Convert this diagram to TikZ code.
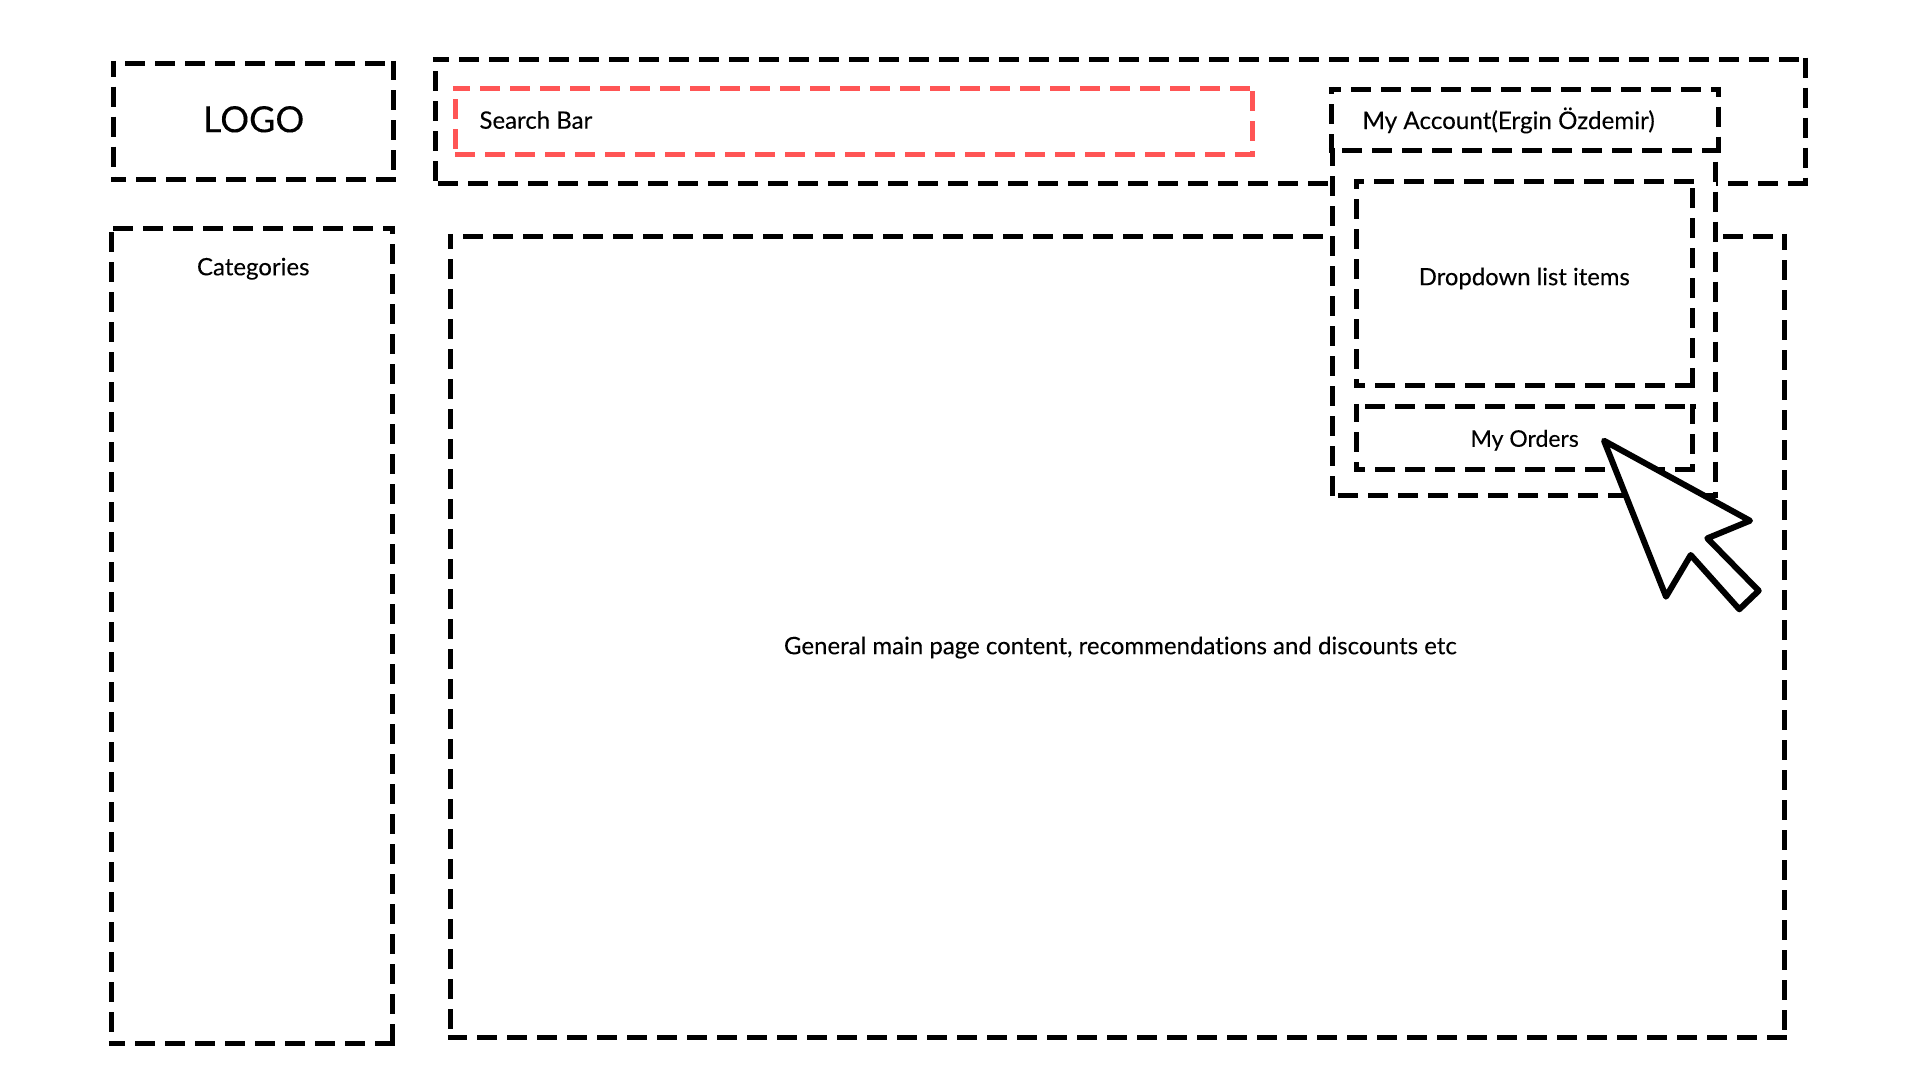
\documentclass[tikz,border=0pt]{standalone}
\usepackage{fontspec}
\setmainfont{Lato}[FakeBold=0.12,Ligatures=CommonOff]
\newcommand{\hsd}[5][black]{% y, x1, x2, dash start
  \pgfmathsetmacro{\myph}{mod(mod(#3-2.5-(#5),30)+30,30)}
  \draw[side,draw=#1,dash phase=\myph pt] ({#3-2.5},#2) -- ({#4+2.5},#2);}
\newcommand{\vsd}[5][black]{% x, y1, y2, dash start
  \pgfmathsetmacro{\myph}{mod(mod(#3-2.5-(#5),30)+30,30)}
  \draw[side,draw=#1,dash phase=\myph pt] (#2,{#3-2.5}) -- (#2,{#4+2.5});}
% name, l, t, r, b, then dTop, dRight, dBottom, dLeft
\newcommand{\dbx}[5]{%
  \pgfmathsetmacro{\myw}{#4-#2}\pgfmathsetmacro{\myh}{#5-#3}
  \node[boxarea,minimum width=\myw pt,minimum height=\myh pt] (#1) at ({(#2+#4)/2},{(#3+#5)/2}) {};
  \def\myl{#2}\def\myt{#3}\def\myr{#4}\def\myb{#5}\dbxb}
\newcommand{\dbxb}[4]{%
  \hsd{\myt}{\myl}{\myr}{#1}\vsd{\myr}{\myt}{\myb}{#2}\hsd{\myb}{\myl}{\myr}{#3}\vsd{\myl}{\myt}{\myb}{#4}}
\tikzset{
  side/.style={line width=5pt,line cap=butt,dash pattern=on 20pt off 10pt},
  boxarea/.style={inner sep=0pt,outer sep=0pt,draw=none},
  lbl/.style={anchor=base west,inner sep=0pt,outer sep=0pt,text=black,font=\fontsize{24}{28}\selectfont},
}
\definecolor{searchred}{HTML}{FF5555}
\begin{document}
\begin{tikzpicture}[x=1pt,y=-1pt]
\useasboundingbox (0,0) rectangle (1920,1080);
% top bar, main, logo, categories
\dbx{topbar}{435.3}{59.3}{1805.3}{183.3}{459}{87.7}{438}{71}
\dbx{main}{450.3}{236.3}{1784.4}{1037.3}{463}{260}{477}{259}
\dbx{logo}{113.5}{63.3}{393.7}{179.3}{125}{90}{136}{86.7}
\dbx{cats}{111.4}{228.3}{392.3}{1043.3}{113}{244}{135}{232}
% search bar
\node[boxarea,minimum width=797pt,minimum height=66pt] (search) at (853.8,121.3) {};
\hsd[searchred]{88.3}{455.3}{1252.3}{480}
\vsd[searchred]{1252.3}{88.3}{154.3}{91}
\hsd[searchred]{154.3}{455.3}{1252.3}{455}
\vsd[searchred]{455.3}{88.3}{154.3}{99}
% dropdown panel
\node[boxarea,fill=white,minimum width=383.4pt,minimum height=345pt] (panel) at (1524,322.5) {};
\vsd{1332.3}{150.3}{495}{176}
\vsd{1715.7}{150.3}{495}{161.7}
\hsd{495}{1332.3}{1715.7}{1338.3}
\dbx{account}{1331.3}{89.3}{1718.3}{150.3}{1351}{106.7}{1342.3}{104.3}
\dbx{items}{1356.7}{181.3}{1692.7}{385}{1374}{188.3}{1375}{199}
\dbx{orders}{1356.7}{406.3}{1692.7}{469.3}{1365}{434}{1375}{432.3}
% labels
\node[lbl,font=\fontsize{36}{42}\selectfont] (logotext) at (203,132.2) {LOGO};
\node[lbl] (searchtext) at (479.5,128.7) {Search Bar};
\node[lbl] (catstext) at (197,275.3) {Categories};
\node[lbl,font=\fontsize{24.2}{28}\selectfont] (accounttext) at (1362.5,129) {My Account(Ergin Özdemir)};
\node[lbl,font=\fontsize{23.85}{28}\selectfont] (itemstext) at (1418.8,285.2) {Dropdown list items};
\node[lbl,font=\fontsize{23}{28}\selectfont] (orderstext) at (1470.5,446.8) {My Orders};
\node[lbl] (maintext) at (784,654.2) {General main page content, recommendations and discounts etc};
% cursor
\draw[line width=6pt,line join=round,fill=white,draw=black]
  (1604,440.7) -- (1750,520.7) -- (1707.3,538.3) -- (1758.7,590.7) -- (1739.3,609.3) -- (1690.7,555) -- (1666,596.7) -- cycle;
\end{tikzpicture}
\end{document}
